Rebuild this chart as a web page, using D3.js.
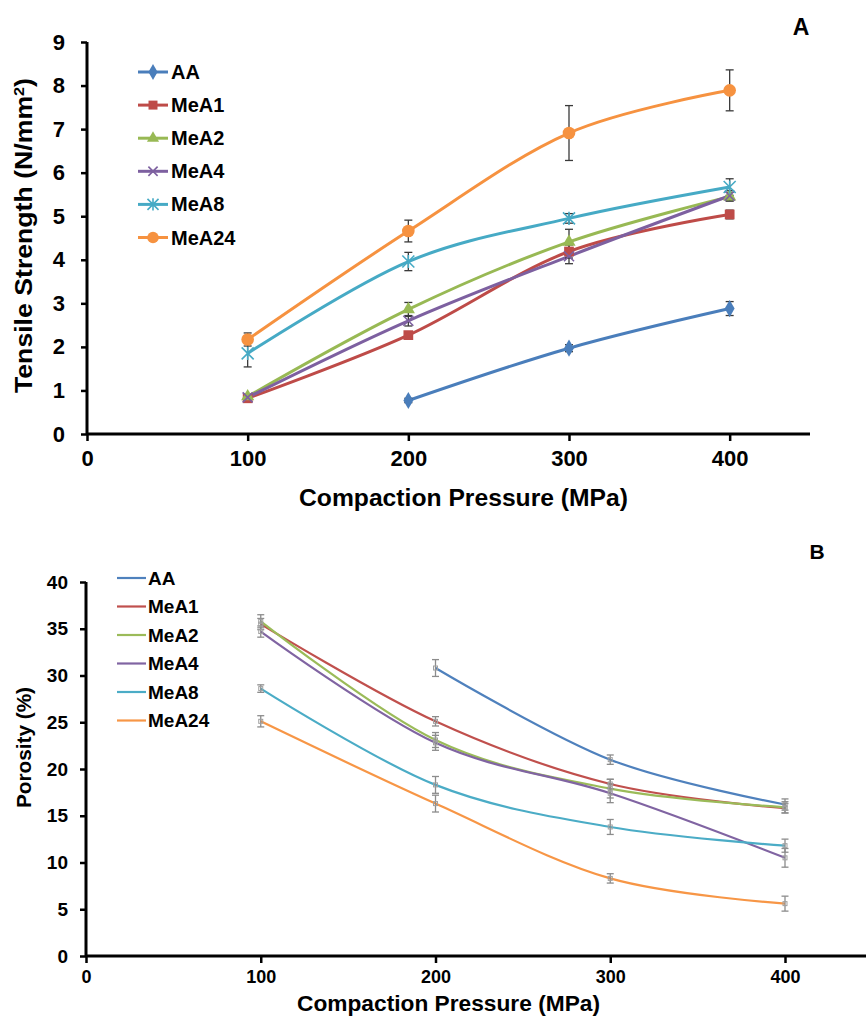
<!DOCTYPE html>
<html><head><meta charset="utf-8">
<script src="https://cdn.jsdelivr.net/npm/d3@7"></script>
<style>
html,body{margin:0;padding:0;background:#fff;}
svg{display:block;font-family:"Liberation Sans",Arial,sans-serif;font-weight:bold;}
</style></head>
<body>
<svg id="chart" width="866" height="1019"></svg>
<script>
// ---------- DATA ----------
const pressures = [100, 200, 300, 400];
const seriesNames = ["AA", "MeA1", "MeA2", "MeA4", "MeA8", "MeA24"];
const xTicks = [0, 100, 200, 300, 400];
const tsTicks = [0, 1, 2, 3, 4, 5, 6, 7, 8, 9];
const porTicks = [0, 5, 10, 15, 20, 25, 30, 35, 40];

// Tensile strength (N/mm2), chart A
const tsAA    = [null, 0.77, 1.97, 2.88];
const tsMeA1  = [0.82, 2.27, 4.19, 5.04];
const tsMeA2  = [0.86, 2.86, 4.41, 5.45];
const tsMeA4  = [0.84, 2.60, 4.08, 5.47];
const tsMeA8  = [1.85, 3.96, 4.95, 5.67];
const tsMeA24 = [2.17, 4.66, 6.91, 7.89];
const tsErrAA    = [null, 0.05, 0.08, 0.16];
const tsErrMeA1  = [0.05, 0.08, 0.15, 0.10];
const tsErrMeA2  = [0.05, 0.16, 0.29, 0.10];
const tsErrMeA4  = [0.05, 0.12, 0.17, 0.12];
const tsErrMeA8  = [0.31, 0.21, 0.11, 0.19];
const tsErrMeA24 = [0.15, 0.25, 0.63, 0.47];

// Porosity (%), chart B
const porAA    = [null, 30.8, 21.0, 16.2];
const porMeA1  = [35.5, 25.1, 18.4, 15.8];
const porMeA2  = [35.8, 23.1, 17.9, 15.9];
const porMeA4  = [34.7, 22.8, 17.4, 10.5];
const porMeA8  = [28.6, 18.3, 13.8, 11.8];
const porMeA24 = [25.1, 16.3, 8.3, 5.6];
const porErrAA    = [null, 0.9, 0.5, 0.6];
const porErrMeA1  = [0.6, 0.5, 0.5, 0.5];
const porErrMeA2  = [0.7, 0.8, 1.0, 0.6];
const porErrMeA4  = [0.6, 0.8, 1.0, 1.0];
const porErrMeA8  = [0.4, 0.9, 0.8, 0.7];
const porErrMeA24 = [0.6, 0.9, 0.5, 0.8];

const colorsA = ["#4A7EBB", "#BE4B48", "#98B954", "#7D60A0", "#46AAC5", "#F69240"];
const colorsB = ["#4F81BD", "#C0504D", "#9BBB59", "#8064A2", "#4BACC6", "#F79646"];
const markers = ["diamond", "square", "triangle", "x", "star", "circle"];

const tsValues = [tsAA, tsMeA1, tsMeA2, tsMeA4, tsMeA8, tsMeA24];
const tsErrors = [tsErrAA, tsErrMeA1, tsErrMeA2, tsErrMeA4, tsErrMeA8, tsErrMeA24];
const porValues = [porAA, porMeA1, porMeA2, porMeA4, porMeA8, porMeA24];
const porErrors = [porErrAA, porErrMeA1, porErrMeA2, porErrMeA4, porErrMeA8, porErrMeA24];

// ---------- DRAW ----------
const svg = d3.select("#chart");

function buildSeries(values, errors) {
  return seriesNames.map((name, i) => ({
    name, i,
    pts: pressures.map((p, j) => ({x: p, y: values[i][j], e: errors[i][j]})).filter(d => d.y != null)
  }));
}

function drawMarker(g, type, cx, cy, color, s) {
  if (type === "diamond") {
    g.append("path").attr("d", d3.symbol(d3.symbolDiamond, 85 * s)()).attr("transform", `translate(${cx},${cy})`).attr("fill", color);
  } else if (type === "square") {
    g.append("path").attr("d", d3.symbol(d3.symbolSquare, 95 * s)()).attr("transform", `translate(${cx},${cy})`).attr("fill", color);
  } else if (type === "triangle") {
    g.append("path").attr("d", d3.symbol(d3.symbolTriangle, 75 * s)()).attr("transform", `translate(${cx},${cy})`).attr("fill", color);
  } else if (type === "circle") {
    g.append("path").attr("d", d3.symbol(d3.symbolCircle, 125 * s)()).attr("transform", `translate(${cx},${cy})`).attr("fill", color);
  } else if (type === "x" || type === "star") {
    const r = (type === "x" ? 5 : 6) * Math.sqrt(s);
    const p = d3.path();
    p.moveTo(cx - r, cy - r); p.lineTo(cx + r, cy + r);
    p.moveTo(cx - r, cy + r); p.lineTo(cx + r, cy - r);
    if (type === "star") { p.moveTo(cx, cy - r * 1.1); p.lineTo(cx, cy + r * 1.1); }
    g.append("path").attr("d", p.toString()).attr("stroke", color).attr("stroke-width", 1.6).attr("fill", "none");
  }
}

function drawPanel(cfg) {
  const {x, y, series, colors} = cfg;
  const g = svg.append("g");
  // axes
  const xAxis = d3.axisBottom(x).tickValues(xTicks).tickSize(7).tickPadding(cfg.xPad).tickFormat(d3.format("d"));
  const gx = g.append("g").attr("transform", `translate(0,${y(0)})`).call(xAxis);
  gx.select(".domain").attr("stroke", "#000").attr("stroke-width", 3).attr("d", `M${x(0)},0H${cfg.xEnd}`);
  gx.selectAll(".tick line").attr("stroke", "#000").attr("stroke-width", 2.5);
  gx.selectAll(".tick text").attr("fill", "#000").style("font-size", cfg.xFont + "px").style("font-weight", "bold");

  const yAxis = d3.axisLeft(y).tickValues(cfg.yTicks).tickSize(6).tickPadding(cfg.yPad).tickFormat(d3.format("d"));
  const gy = g.append("g").attr("transform", `translate(${x(0)},0)`).call(yAxis);
  gy.select(".domain").attr("stroke", "#000").attr("stroke-width", 3).attr("d", `M0,${y(cfg.yMax)}V${y(0)}`);
  gy.selectAll(".tick line").attr("stroke", "#000").attr("stroke-width", 2.5);
  gy.selectAll(".tick text").attr("fill", "#000").style("font-size", cfg.yFont + "px").style("font-weight", "bold");
  g.selectAll("g").attr("font-family", null).attr("font-size", null);

  const line = d3.line().x(d => x(d.x)).y(d => y(d.y)).curve(d3.curveCatmullRom.alpha(0));

  // lines
  series.forEach(s => {
    g.append("path").datum(s.pts).attr("d", line).attr("fill", "none")
      .attr("stroke", colors[s.i]).attr("stroke-width", cfg.lineW).attr("stroke-linejoin", "round");
  });
  // error bars
  series.forEach(s => {
    s.pts.forEach(d => {
      const eg = g.append("g").attr("stroke", cfg.errColor).attr("stroke-width", cfg.errW).attr("fill", "none");
      const xc = x(d.x), y1 = y(d.y + d.e), y2 = y(d.y - d.e), c = cfg.capW;
      eg.append("line").attr("x1", xc).attr("x2", xc).attr("y1", y1).attr("y2", y2);
      eg.append("line").attr("x1", xc - c).attr("x2", xc + c).attr("y1", y1).attr("y2", y1);
      eg.append("line").attr("x1", xc - c).attr("x2", xc + c).attr("y1", y2).attr("y2", y2);
    });
  });
  // markers
  if (cfg.markers) {
    series.forEach(s => s.pts.forEach(d => drawMarker(g, markers[s.i], x(d.x), y(d.y), colors[s.i], 1)));
  } else {
    series.forEach(s => s.pts.forEach(d => {
      g.append("rect").attr("x", x(d.x) - 2).attr("y", y(d.y) - 2).attr("width", 4).attr("height", 4)
        .attr("fill", "none").attr("stroke", "#a0a0a0").attr("stroke-width", 1);
    }));
  }
  // legend
  const lg = g.append("g");
  seriesNames.forEach((name, i) => {
    const ly = cfg.leg.y0 + i * cfg.leg.dy;
    lg.append("line").attr("x1", cfg.leg.x1).attr("x2", cfg.leg.x2).attr("y1", ly).attr("y2", ly)
      .attr("stroke", colors[i]).attr("stroke-width", cfg.lineW);
    if (cfg.markers) drawMarker(lg, markers[i], (cfg.leg.x1 + cfg.leg.x2) / 2, ly, colors[i], 0.85);
    lg.append("text").attr("x", cfg.leg.tx).attr("y", ly).attr("dy", "0.35em")
      .style("font-size", cfg.leg.font + "px").attr("fill", "#000").text(name);
  });
  return g;
}

// Panel A
const xA = d3.scaleLinear().domain([0, 450]).range([87, 810]);
const yA = d3.scaleLinear().domain([0, 9]).range([434, 42]);
drawPanel({
  x: xA, y: yA, series: buildSeries(tsValues, tsErrors), colors: colorsA,
  yTicks: tsTicks, yMax: 9, xEnd: 810, xPad: 9, yPad: 16, xFont: 22, yFont: 22,
  lineW: 3, errColor: "#3a3a3a", errW: 1.3, capW: 4, markers: true,
  leg: {x1: 138, x2: 168, tx: 171, y0: 72, dy: 33.1, font: 20}
});
svg.append("text").attr("x", 463.5).attr("y", 498).attr("dy", "0.35em").attr("text-anchor", "middle")
  .attr("textLength", 329).attr("lengthAdjust", "spacingAndGlyphs").style("font-size", "23px").text("Compaction Pressure (MPa)");
const tA = svg.append("text").attr("transform", "translate(32,235.5) rotate(-90)").attr("text-anchor", "middle")
  .attr("textLength", 315).attr("lengthAdjust", "spacingAndGlyphs").style("font-size", "23px");
tA.append("tspan").text("Tensile Strength (N/mm");
tA.append("tspan").attr("baseline-shift", "super").style("font-size", "14px").text("2");
tA.append("tspan").text(")");
svg.append("text").attr("x", 801).attr("y", 27).attr("dy", "0.35em").attr("text-anchor", "middle").style("font-size", "23px").text("A");

// Panel B
const xB = d3.scaleLinear().domain([0, 400]).range([86, 785]);
const yB = d3.scaleLinear().domain([0, 40]).range([956, 582]);
drawPanel({
  x: xB, y: yB, series: buildSeries(porValues, porErrors), colors: colorsB,
  yTicks: porTicks, yMax: 40, xEnd: 866, xPad: 7, yPad: 12, xFont: 18, yFont: 19,
  lineW: 2.2, errColor: "#8c8c8c", errW: 1.3, capW: 3.5, markers: false,
  leg: {x1: 117, x2: 146, tx: 148, y0: 578, dy: 28.5, font: 19}
});
svg.append("text").attr("x", 448.5).attr("y", 1003).attr("dy", "0.35em").attr("text-anchor", "middle")
  .attr("textLength", 303).attr("lengthAdjust", "spacingAndGlyphs").style("font-size", "22px").text("Compaction Pressure (MPa)");
svg.append("text").attr("transform", "translate(31,747.5) rotate(-90)").attr("text-anchor", "middle")
  .attr("textLength", 121).attr("lengthAdjust", "spacingAndGlyphs").style("font-size", "21px").text("Porosity (%)");
svg.append("text").attr("x", 817).attr("y", 552).attr("dy", "0.35em").attr("text-anchor", "middle").style("font-size", "21px").text("B");
</script>
</body></html>
